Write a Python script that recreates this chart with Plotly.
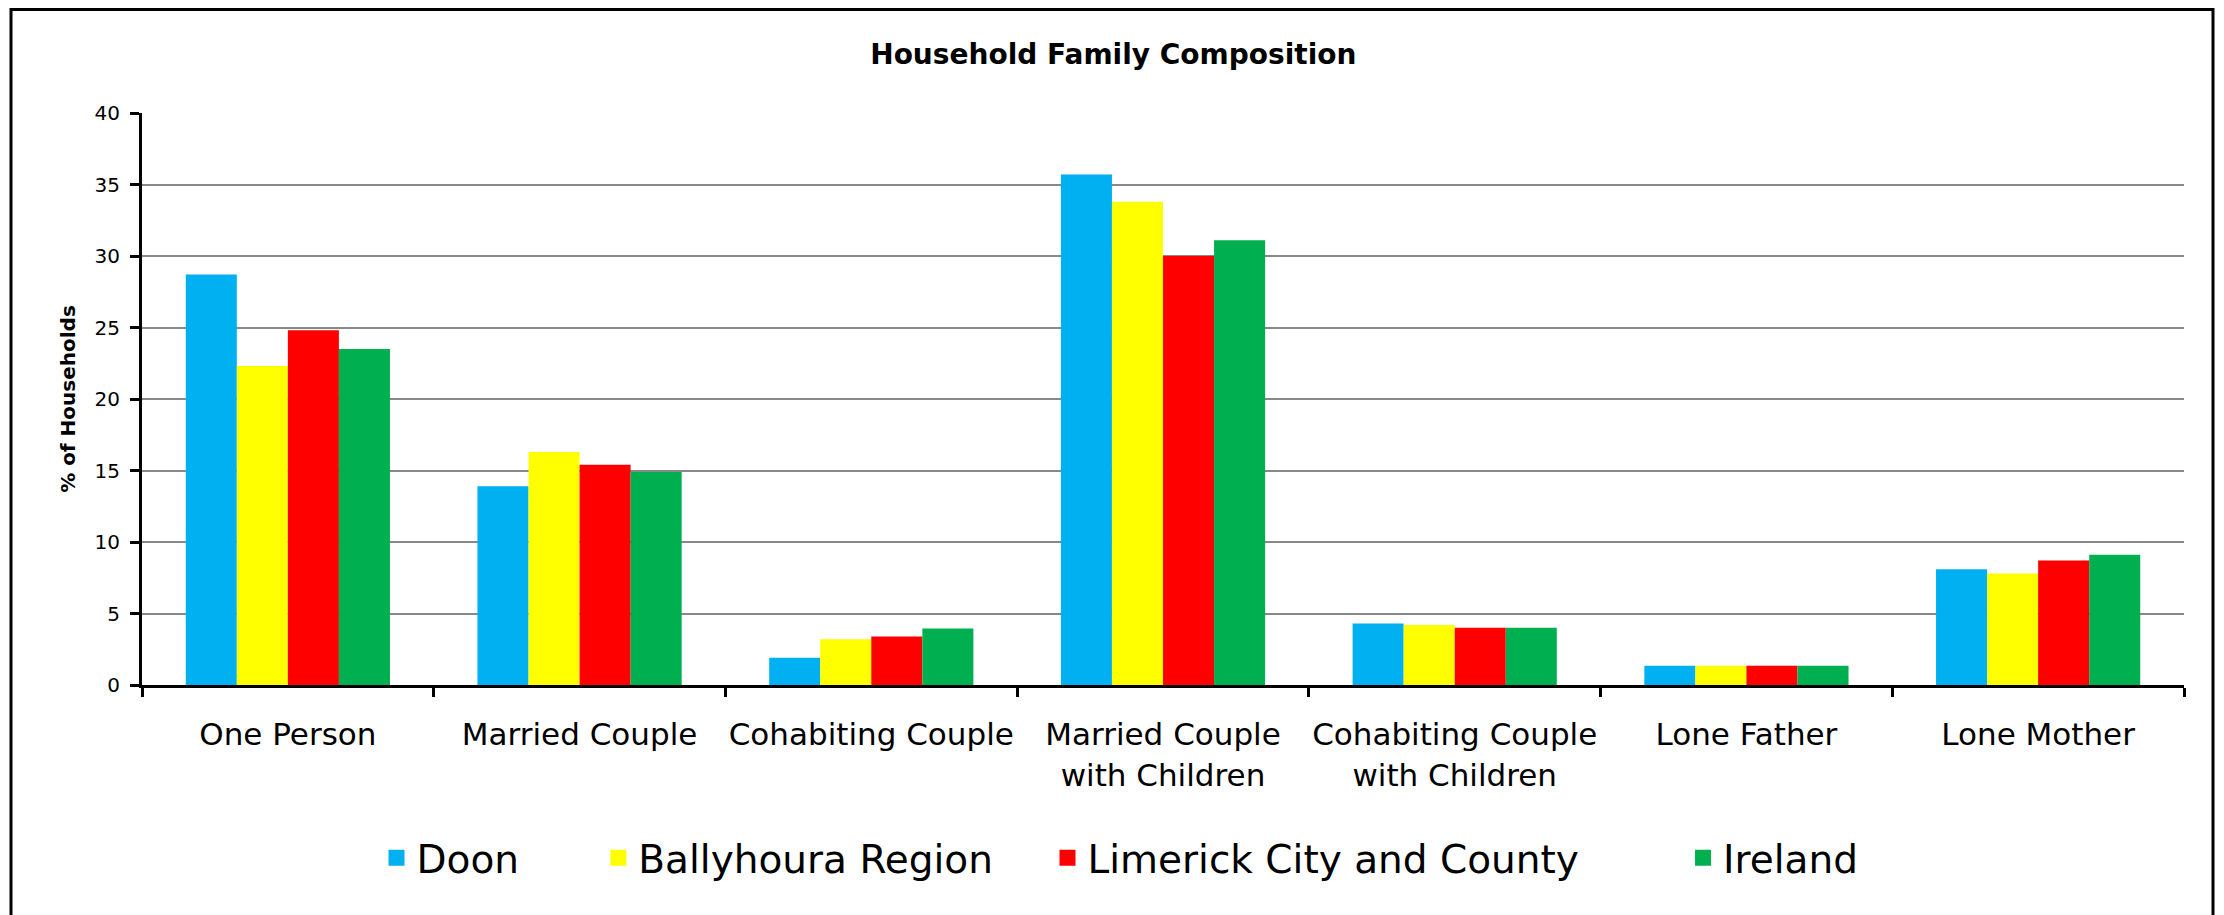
import plotly.graph_objects as go

categories = ["One Person", "Married Couple", "Cohabiting Couple",
              "Married Couple<br>with Children", "Cohabiting Couple<br>with Children",
              "Lone Father", "Lone Mother"]

doon = [28.7, 13.9, 1.9, 35.7, 4.3, 1.35, 8.1]
ballyhoura = [22.3, 16.3, 3.2, 33.8, 4.2, 1.35, 7.8]
limerick = [24.8, 15.4, 3.4, 30.0, 4.0, 1.35, 8.7]
ireland = [23.5, 14.9, 3.95, 31.1, 4.0, 1.35, 9.1]

series = ["Doon", "Ballyhoura Region", "Limerick City and County", "Ireland"]
colors = ["#00B0F0", "#FFFF00", "#FF0000", "#00B050"]
values = [doon, ballyhoura, limerick, ireland]
# extra room after each legend label (non-breaking spaces)
legend_pad = [6, 4, 8, 0]

FONT = "DejaVu Sans"

fig = go.Figure()
for name, vals, c in zip(series, values, colors):
    fig.add_trace(go.Bar(x=categories, y=vals, name=name, marker_color=c,
                         marker_line_width=0, showlegend=False))
# legend entries with bigger square swatches
for name, c, pad in zip(series, colors, legend_pad):
    fig.add_trace(go.Scatter(x=[None], y=[None], mode="markers", name=name + "\u00a0" * pad,
                             marker=dict(symbol="square", size=24, color=c)))

# plot area in figure pixels
L, R, T, B = 134, 48, 105, 238
PW, PH = 2224 - L - R, 915 - T - B

fig.update_layout(
    width=2224, height=915,
    margin=dict(l=L, r=R, t=T, b=B, autoexpand=False),
    paper_bgcolor="white", plot_bgcolor="white",
    font=dict(family=FONT, color="black"),
    title=dict(text="<b>Household Family Composition</b>", font=dict(size=28),
               x=0.497, xref="container", xanchor="center", y=1 - 46 / 915, yanchor="middle"),
    barmode="group", bargap=0.3, bargroupgap=0,
    legend=dict(orientation="h", x=(1112 - L) / PW, xanchor="center",
                y=-(850 - (915 - B)) / PH, yanchor="middle", font=dict(size=39)),
    shapes=[dict(type="rect", xref="paper", yref="paper",
                 x0=(3 - L) / PW, x1=(2205 - L) / PW,
                 y0=-0.6, y1=1 + (T - 1.5) / PH,
                 line=dict(color="black", width=3))],
)

fig.update_xaxes(showline=True, linecolor="black", linewidth=3, tickangle=0,
                 ticks="outside", tickson="boundaries", ticklen=9, tickwidth=3,
                 tickcolor="black", tickfont=dict(size=31), ticklabelstandoff=20,
                 showgrid=False)
fig.update_yaxes(range=[0, 40], dtick=5, showline=True, linecolor="black", linewidth=3,
                 ticks="outside", ticklen=9, tickwidth=3, tickcolor="black",
                 tickfont=dict(size=20), ticklabelstandoff=6,
                 showgrid=True, gridcolor="#888888", gridwidth=2, zeroline=False,
                 title=dict(text="<b>% of Households</b>", font=dict(size=20), standoff=14))

fig.write_html("out.html")
